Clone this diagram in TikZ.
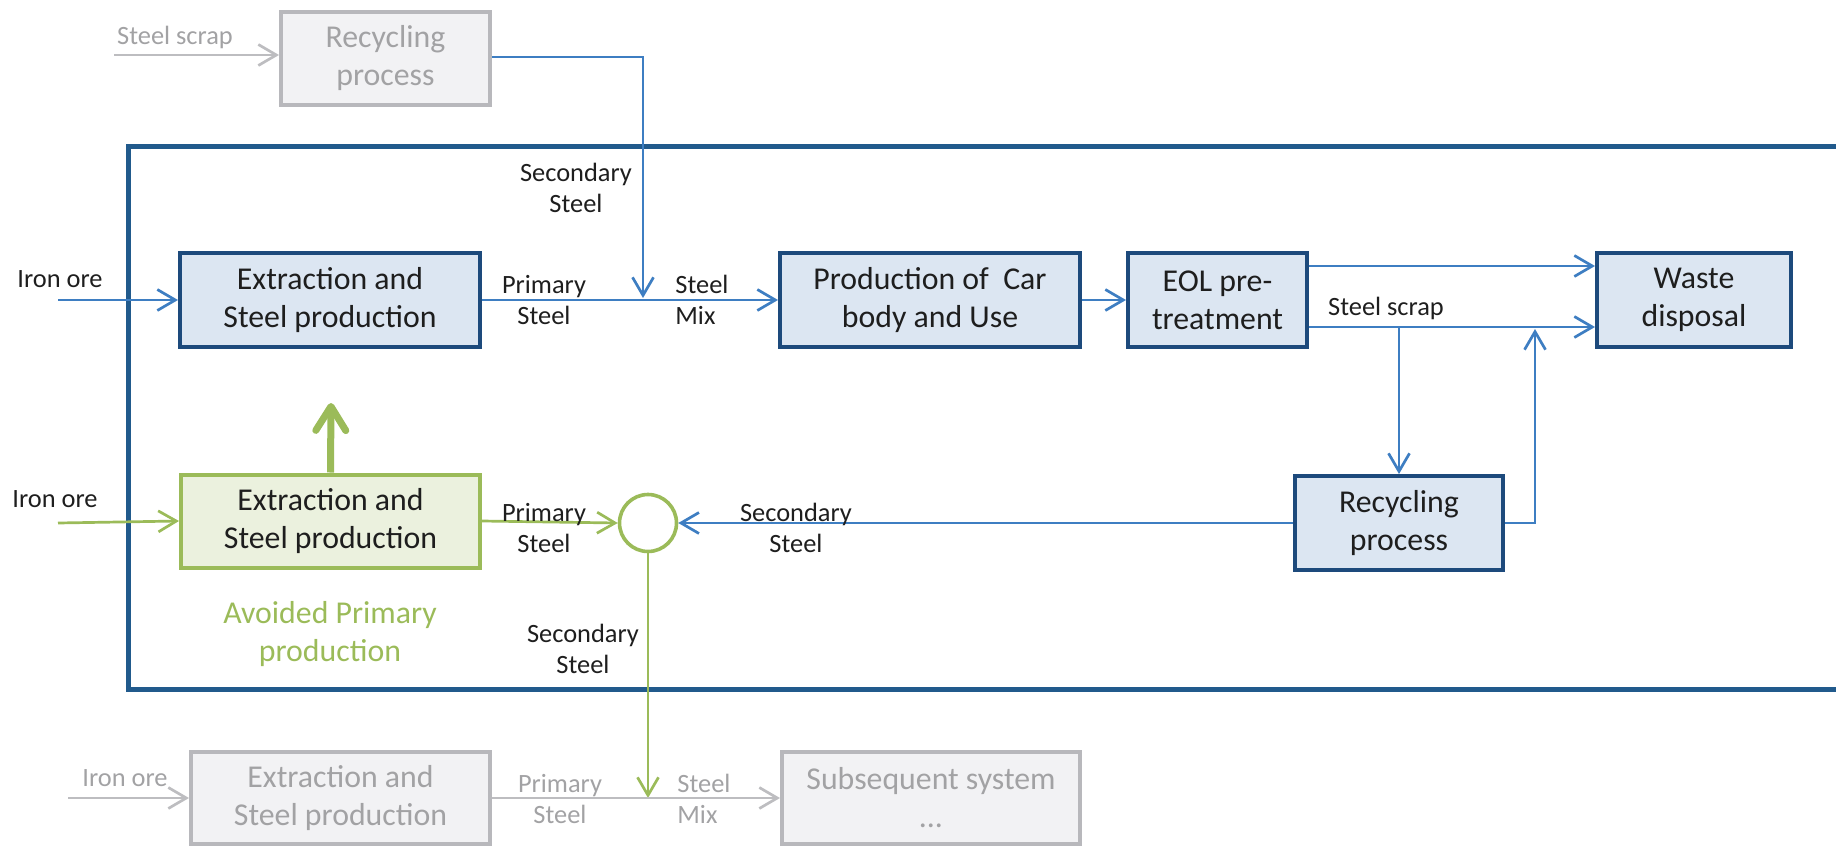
\documentclass[tikz,border=0pt]{standalone}
\usepackage{fontspec}
\setmainfont{Carlito}
\usetikzlibrary{arrows.meta}

\definecolor{framecol}{HTML}{215A8C}
\definecolor{boxline}{HTML}{1D4A7C}
\definecolor{boxfill}{HTML}{DCE6F2}
\definecolor{flowblue}{HTML}{3E7EC2}
\definecolor{avgreen}{HTML}{9BBB59}
\definecolor{avfill}{HTML}{EBF1DE}
\definecolor{ghostline}{HTML}{B8B8BC}
\definecolor{ghostfill}{HTML}{F2F2F4}
\definecolor{ghosttext}{HTML}{A2A2A4}
\definecolor{ghostarrow}{HTML}{BDBDC0}
\definecolor{ink}{HTML}{1E1E1E}

\newcommand{\boxtext}{\fontsize{15.9}{19}\selectfont}
\newcommand{\flowtext}{\fontsize{13.2}{15.5}\selectfont}

\tikzset{
  procbox/.style={rectangle, draw=boxline, fill=boxfill, line width=2pt,
    inner sep=0pt, align=center, font=\boxtext, text=ink},
  avbox/.style={rectangle, draw=avgreen, fill=avfill, line width=2pt,
    inner sep=0pt, align=center, font=\boxtext, text=ink},
  ghostbox/.style={rectangle, draw=ghostline, fill=ghostfill, line width=2pt,
    inner sep=0pt, align=center, font=\boxtext, text=ghosttext},
  tip/.style={-{Straight Barb[length=9pt,width=10.5pt]}},
  blueflow/.style={tip, draw=flowblue, line width=1.35pt},
  greenflow/.style={tip, draw=avgreen, line width=1.35pt},
  ghostflow/.style={tip, draw=ghostarrow, line width=1.35pt},
  flowlabel/.style={inner sep=0pt, align=center, font=\flowtext, text=ink},
  ghostlabel/.style={flowlabel, text=ghosttext},
}

\begin{document}
\begin{tikzpicture}[x=0.5pt, y=-0.5pt]
\useasboundingbox (0,0) rectangle (1836,846);

% system boundary
\draw[framecol, line width=2.5pt] (128,146) rectangle (1839,689);

% process boxes
\node[ghostbox, minimum width=104.5pt, minimum height=46.5pt] (recTop) at (385.5,58.5) {Recycling\\process};
\node[procbox, minimum width=150pt, minimum height=47pt] (ext1) at (330,300) {Extraction and\\Steel production};
\node[procbox, minimum width=150pt, minimum height=47pt] (prod) at (930,300) {Production of~ Car\\body and Use};
\node[procbox, minimum width=89.5pt, minimum height=47pt] (eol) at (1217.5,300) {EOL pre-\\treatment};
\node[procbox, minimum width=97pt, minimum height=47pt] (waste) at (1694,300) {Waste\\disposal};
\node[procbox, minimum width=104pt, minimum height=47pt] (rec) at (1399,523) {Recycling\\process};
\node[avbox, minimum width=149.5pt, minimum height=46.5pt] (ext2) at (330.5,521) {Extraction and\\Steel production};
\node[circle, draw=avgreen, fill=white, line width=1.8pt, minimum size=28.5pt, inner sep=0pt] (circ) at (648,523) {};
\node[ghostbox, minimum width=149.5pt, minimum height=46pt] (ext3) at (340.5,798) {Extraction and\\Steel production};
\node[ghostbox, minimum width=149pt, minimum height=46pt] (subs) at (931,798) {Subsequent system\\...};

% free ends of the flows
\coordinate (scrapIn) at (114,55);
\coordinate (mixTip) at (643,298);
\coordinate (ore1) at (58,300);
\coordinate (ore2) at (58,523);
\coordinate (ore3) at (68,798);
\coordinate (scrapSplit) at (1399,327);
\coordinate (retTip) at (1535,329);
\coordinate (avTip) at (331,403);
\coordinate (mix2) at (648,798);

% upstream recycling
\draw[ghostflow] (scrapIn) -- (scrapIn -| recTop.west);
\draw[blueflow] (recTop.east |- 0,57) -| (mixTip);

% main chain
\draw[blueflow] (ore1) -- (ext1.west);
\draw[blueflow] (ext1.east) -- (prod.west);
\draw[blueflow] (prod.east) -- (eol.west);
\draw[blueflow] ([yshift=17pt]eol.east) -- ([yshift=17pt]waste.west);
\draw[blueflow] ([yshift=-13.5pt]eol.east) -- ([yshift=-13.5pt]waste.west);
\draw[blueflow] (scrapSplit) -- (rec.north);
\draw[blueflow] (rec.east) -| (retTip);
\draw[blueflow] (rec.west) -- (circ.east);

% avoided primary production
\draw[greenflow] (ore2) -- (ext2.west);
\draw[greenflow] (ext2.east) -- (circ.west);
\draw[avgreen, line width=3.5pt, -{Straight Barb[length=12pt,width=15pt,round]}] (ext2.north) -- (avTip);
\draw[greenflow] (circ.south) -- (mix2);

% subsequent system
\draw[ghostflow] (ore3) -- (ext3.west);
\draw[ghostflow] (ext3.east) -- (subs.west);

% flow labels
\node[ghostlabel] (lScrapTop) at (175,37) {Steel scrap};
\node[flowlabel] (lSecTop) at (576,188) {Secondary\\Steel};
\node[flowlabel] (lOre1) at (60,279) {Iron ore};
\node[flowlabel] (lPrim1) at (544,300) {Primary\\Steel};
\node[flowlabel, align=left, anchor=west] (lMix1) at (675,300) {Steel\\Mix};
\node[flowlabel] (lScrap) at (1386,308) {Steel scrap};
\node[flowlabel] (lOre2) at (55,499) {Iron ore};
\node[flowlabel] (lPrim2) at (544,528) {Primary\\Steel};
\node[flowlabel] (lSec2) at (796,528) {Secondary\\Steel};
\node[flowlabel] (lSec3) at (583,649) {Secondary\\Steel};
\node[inner sep=0pt, align=center, font=\boxtext, text=avgreen] (lAvoided) at (330,634) {Avoided Primary\\production};
\node[ghostlabel] (lOre3) at (125,778) {Iron ore};
\node[ghostlabel] (lPrim3) at (560,799) {Primary\\Steel};
\node[ghostlabel, align=left, anchor=west] (lMix3) at (677,799) {Steel\\Mix};
\end{tikzpicture}
\end{document}
